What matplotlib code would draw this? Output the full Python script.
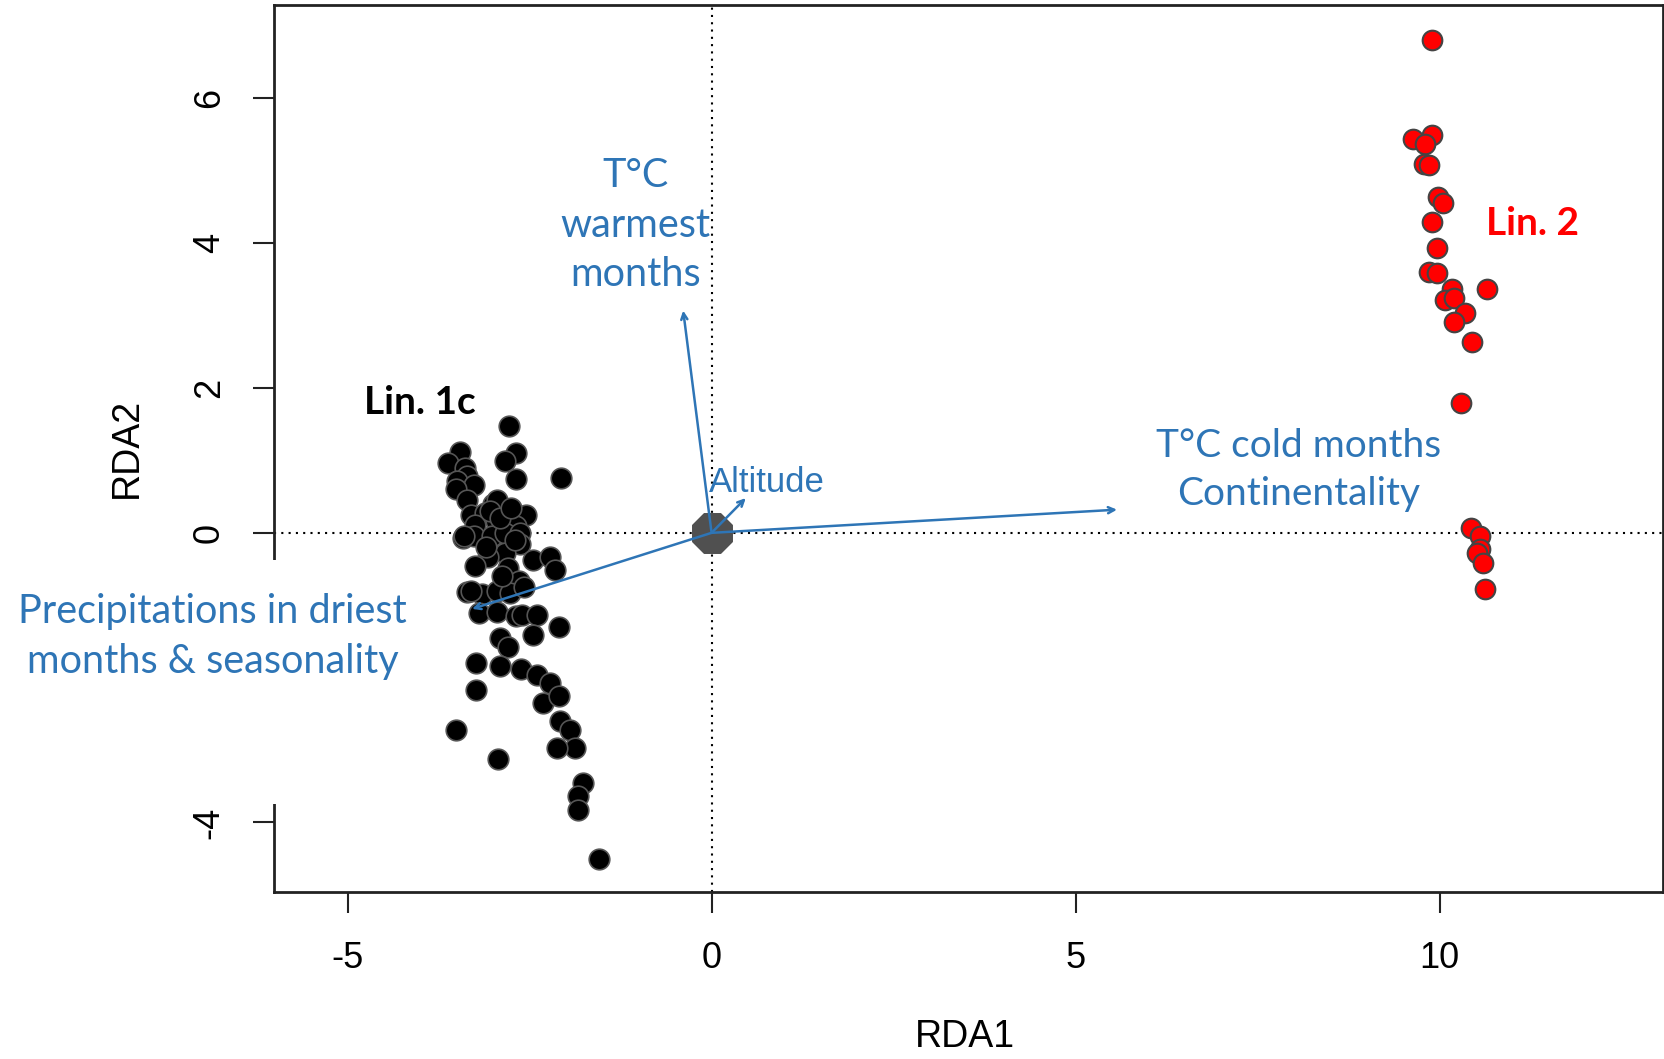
import matplotlib
matplotlib.use("Agg")
from matplotlib import pyplot as plt
from matplotlib.patches import Rectangle

# site scores, lineage 1c (black)
lin1_x = [-2.78, -3.45, -3.62, -2.69, -2.84, -2.69, -2.07, -3.39, -3.36, -3.50,
          -3.27, -3.51, -3.36, -3.00, -3.31, -3.11, -2.84, -2.55, -2.96, -3.25,
          -2.68, -3.41, -3.27, -3.02, -2.84, -2.63, -2.63, -2.84, -3.07, -2.45,
          -2.22, -2.15, -3.25, -2.79, -2.65, -3.36, -3.16, -2.95, -2.77, -3.20,
          -2.95, -2.68, -2.61, -2.40, -2.10, -2.45, -2.91, -2.79, -3.23, -2.91,
          -2.62, -2.40, -2.22, -2.32, -2.09, -3.23, -2.08, -1.94, -1.88, -2.13,
          -3.51, -2.93, -1.76, -1.83, -1.83, -1.54, -2.95, -3.05, -2.90, -2.75,
          -2.70, -3.10, -3.30, -3.40, -2.88, -2.58]
lin1_y = [1.47, 1.11, 0.97, 1.10, 0.99, 0.74, 0.76, 0.89, 0.79, 0.71,
          0.66, 0.60, 0.46, 0.40, 0.25, 0.27, 0.27, 0.24, 0.16, 0.11,
          0.09, -0.07, -0.05, -0.05, 0.00, 0.00, -0.16, -0.28, -0.33, -0.38,
          -0.33, -0.52, -0.46, -0.49, -0.67, -0.82, -0.85, -0.80, -0.83, -1.11,
          -1.09, -1.15, -1.14, -1.14, -1.30, -1.41, -1.45, -1.57, -1.80, -1.84,
          -1.88, -1.96, -2.07, -2.35, -2.26, -2.17, -2.60, -2.72, -2.97, -2.97,
          -2.72, -3.12, -3.45, -3.64, -3.83, -4.50, 0.46, 0.30, 0.20, 0.35,
          -0.10, -0.20, -0.80, -0.05, -0.60, -0.75]

# site scores, lineage 2 (red)
lin2_x = [9.89, 9.64, 9.89, 9.80, 9.78, 9.85, 9.98, 10.05, 9.89, 9.96,
          9.85, 9.96, 10.17, 10.65, 10.08, 10.20, 10.35, 10.20, 10.44, 10.29,
          10.43, 10.55, 10.56, 10.51, 10.60, 10.62]
lin2_y = [6.81, 5.44, 5.49, 5.37, 5.09, 5.08, 4.64, 4.55, 4.29, 3.93,
          3.60, 3.59, 3.37, 3.37, 3.22, 3.24, 3.04, 2.91, 2.64, 1.79,
          0.07, -0.04, -0.23, -0.28, -0.42, -0.77]

# environmental vectors (arrow tips)
env_x = [-0.39, 0.47, 5.57, -3.29]
env_y = [3.07, 0.48, 0.32, -1.05]

xticks = [-5, 0, 5, 10]
yticks = [-4, -2, 0, 2, 4, 6]
# the -2 label sits under the pasted text box in the original
ytick_labels = ["-4", "", "0", "2", "4", "6"]

blue = "#2E75B6"
sans = ["Liberation Sans", "DejaVu Sans"]

fig = plt.figure(figsize=(16.65, 10.59), dpi=100)
ax = fig.add_axes([0.1646, 0.1577, 0.8342, 0.8376])
ax.set_xlim(-6.01, 13.07)
ax.set_ylim(-4.96, 7.29)

ax.axhline(0, color="black", lw=1.5, ls=(0, (1, 2.5)), zorder=1)
ax.axvline(0, color="black", lw=1.5, ls=(0, (1, 2.5)), zorder=1)

ax.scatter(lin1_x, lin1_y, s=220, c="black", edgecolors="#555555", linewidths=1.2, zorder=3)
ax.scatter(lin2_x, lin2_y, s=200, c="#FF0000", edgecolors="#444444", linewidths=1.5, zorder=3)
ax.scatter([0], [0], s=950, c="#505050", marker="8", zorder=2)

for ex, ey in zip(env_x, env_y):
    ax.annotate("", xy=(ex, ey), xytext=(0, 0),
                arrowprops=dict(arrowstyle="->,head_length=0.45,head_width=0.22",
                                color=blue, lw=1.8, shrinkA=0, shrinkB=0), zorder=4)

ax.text(-1.05, 4.25, "T°C\nwarmest\nmonths", color=blue, fontsize=28.5, family="Lato",
        ha="center", va="center", linespacing=1.42)
ax.text(8.07, 0.87, "T°C cold months\nContinentality", color=blue, fontsize=28, family="Lato",
        ha="center", va="center", linespacing=1.42)
ax.text(-0.03, 0.69, "Altitude", color=blue, fontsize=25, family=sans,
        ha="left", va="center")
ax.text(-4.01, 1.80, "Lin. 1c", color="black", fontsize=28, family="Lato",
        fontweight="bold", ha="center", va="center")
ax.text(11.28, 4.27, "Lin. 2", color="#FF0000", fontsize=28, family="Lato",
        fontweight="bold", ha="center", va="center")

ax.set_xticks(xticks)
ax.set_yticks(yticks)
ax.set_xticklabels([str(t) for t in xticks], family=sans, fontsize=26)
ax.set_yticklabels(ytick_labels, family=sans, fontsize=26, rotation=90, va="center")
ax.tick_params(axis="both", length=15, width=1.5, color="#222222")
ax.tick_params(axis="x", pad=20)
ax.tick_params(axis="y", pad=19)
for sp in ax.spines.values():
    sp.set_linewidth(2)
    sp.set_color("#222222")

ax.set_xlabel("RDA1", family=sans, fontsize=27, va="center")
ax.xaxis.set_label_coords(0.4975, -0.163)
ax.set_ylabel("RDA2", family=sans, fontsize=27, va="center", ha="center")
ax.yaxis.set_label_coords(-0.1058, 0.5006)

# white box pasted over the left axis, with the precipitation label
fig.add_artist(Rectangle((0, 0.2408), 0.255, 0.2304, transform=fig.transFigure,
                         facecolor="white", edgecolor="none", zorder=5))
fig.text(0.1276, 0.3987, "Precipitations in driest\nmonths & seasonality", color=blue,
         fontsize=28.5, family="Lato", ha="center", va="center", linespacing=1.42, zorder=6)

plt.savefig("out.png", dpi=100)
